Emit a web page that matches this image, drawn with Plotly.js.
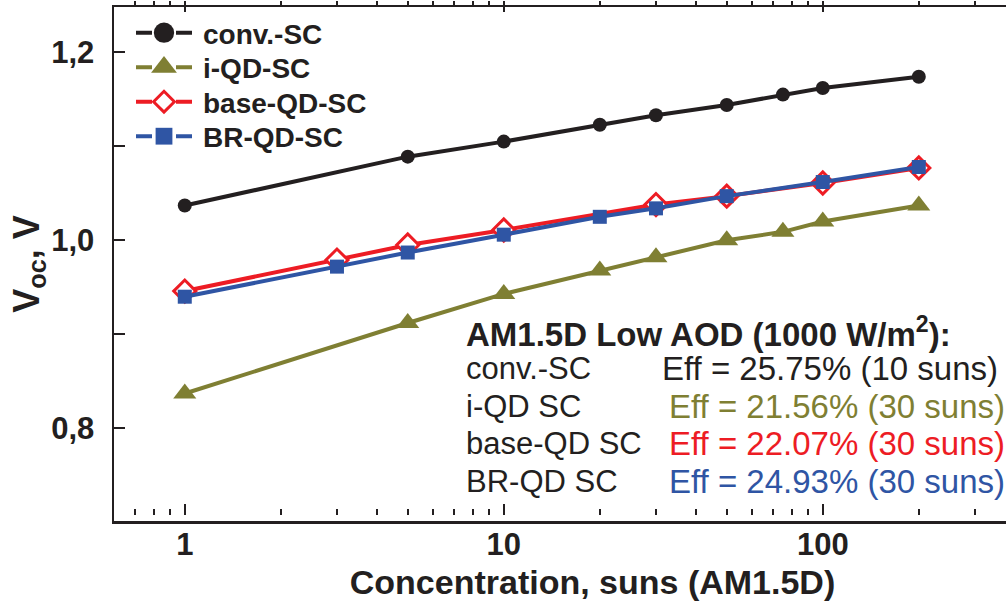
<!DOCTYPE html>
<html><head><meta charset="utf-8">
<script src="https://cdn.plot.ly/plotly-3.0.1.min.js"></script>
<style>html,body{margin:0;padding:0;overflow:hidden;background:#fff;width:1006px;height:601px}</style>
</head><body><div id="chart"></div>
<script>
// ---- data ----
const seriesNames = ['conv.-SC', 'i-QD-SC', 'base-QD-SC', 'BR-QD-SC'];
const concConv = [1, 5, 10, 20, 30, 50, 75, 100, 200];
const vocConv  = [1.037, 1.089, 1.105, 1.123, 1.133, 1.144, 1.155, 1.162, 1.174];
const concIQD  = [1, 5, 10, 20, 30, 50, 75, 100, 200];
const vocIQD   = [0.837, 0.912, 0.943, 0.968, 0.982, 1.000, 1.009, 1.020, 1.037];
const concBase = [1, 3, 5, 10, 30, 50, 100, 200];
const vocBase  = [0.946, 0.979, 0.995, 1.011, 1.038, 1.047, 1.061, 1.077];
const concBR   = [1, 3, 5, 10, 20, 30, 50, 100, 200];
const vocBR    = [0.940, 0.972, 0.987, 1.006, 1.025, 1.034, 1.047, 1.062, 1.078];
const yTickVals = [0.8, 0.9, 1.0, 1.1, 1.2];
const yTickText = ['0,8', '', '1,0', '', '1,2'];
const xTickVals = [1, 10, 100];
const xTickText = ['1', '10', '100'];
const infoTitle = 'AM1.5D Low AOD (1000 W/m<sup>2</sup>):';
const infoCells = ['conv.-SC', 'i-QD SC', 'base-QD SC', 'BR-QD SC'];
const infoEff   = ['Eff = 25.75% (10 suns)', 'Eff = 21.56% (30 suns)', 'Eff = 22.07% (30 suns)', 'Eff = 24.93% (30 suns)'];

// ---- styles ----
const INK = '#231f20', OLIVE = '#7f7f33', RED = '#ed1c24', BLUE = '#2f55a4';
const FONT = 'Liberation Sans, Arial, Helvetica, sans-serif';
const W = 1071, H = 601, ML = 114, MT = 7, MB = 80;
const PW = W - ML, PH = H - MT - MB;
const px2x = p => (p - ML) / PW;
const py2y = p => (H - MB - p) / PH;

const traces = [
  {x: concConv, y: vocConv, name: seriesNames[0], mode: 'lines+markers',
   line: {color: INK, width: 4}, marker: {symbol: 'circle', size: 14, color: INK}},
  {x: concIQD, y: vocIQD, name: seriesNames[1], mode: 'lines+markers',
   line: {color: OLIVE, width: 4}, marker: {symbol: 'triangle-up', size: 20, color: OLIVE}},
  {x: concBase, y: vocBase, name: seriesNames[2], mode: 'lines+markers',
   line: {color: RED, width: 4}, marker: {symbol: 'diamond', size: 17, color: '#ffffff', line: {color: RED, width: 3}}},
  {x: concBR, y: vocBR, name: seriesNames[3], mode: 'lines+markers',
   line: {color: BLUE, width: 4}, marker: {symbol: 'square', size: 14, color: BLUE}}
];
const legendMarkerScale = [1.45, 1.4, 1.0, 1.2];

const annotations = [
  {text: infoTitle, xref: 'paper', yref: 'paper', x: px2x(464), y: py2y(332), xanchor: 'left', yanchor: 'middle',
   showarrow: false, font: {family: FONT, size: 33, color: INK, weight: 'bold'}}
];
const rowY = [368, 406, 443, 481];
const effColors = [INK, OLIVE, RED, BLUE];
const effX = [660, 667, 667, 667];
infoCells.forEach((t, i) => {
  annotations.push({text: t, xref: 'paper', yref: 'paper', x: px2x(464), y: py2y(rowY[i]), xanchor: 'left', yanchor: 'middle',
    showarrow: false, font: {family: FONT, size: 31, color: INK}});
  annotations.push({text: infoEff[i], xref: 'paper', yref: 'paper', x: px2x(effX[i]), y: py2y(rowY[i]), xanchor: 'left', yanchor: 'middle',
    showarrow: false, font: {family: FONT, size: 33, color: effColors[i]}});
});

const layout = {
  width: W, height: H,
  margin: {l: ML, r: 0, t: MT, b: MB},
  paper_bgcolor: '#ffffff', plot_bgcolor: '#ffffff',
  font: {family: FONT, color: INK},
  showlegend: true,
  legend: {x: px2x(131), y: py2y(8), xanchor: 'left', yanchor: 'top', bgcolor: 'rgba(0,0,0,0)',
           itemwidth: 62, font: {family: FONT, size: 28, color: INK, weight: 'bold'}},
  xaxis: {
    type: 'log', range: [Math.log10(0.6), Math.log10(600)],
    showgrid: false, zeroline: false,
    showline: true, linecolor: INK, linewidth: 2.5, mirror: 'ticks',
    ticks: 'inside', ticklen: 11, tickwidth: 2, tickcolor: INK,
    tickvals: xTickVals, ticktext: xTickText,
    tickfont: {family: FONT, size: 31, color: INK, weight: 'bold'},
    minor: {ticks: 'inside', ticklen: 6, tickwidth: 2, tickcolor: INK, dtick: 'D1', showgrid: false},
    title: {text: 'Concentration, suns (AM1.5D)', standoff: 6,
            font: {family: FONT, size: 34, color: INK, weight: 'bold'}}
  },
  yaxis: {
    range: [0.7014, 1.2482],
    showgrid: false, zeroline: false,
    showline: true, linecolor: INK, linewidth: 2.5, mirror: 'ticks',
    ticks: 'inside', ticklen: 11, tickwidth: 2, tickcolor: INK,
    tickvals: yTickVals, ticktext: yTickText,
    ticklabelstandoff: 11,
    tickfont: {family: FONT, size: 31, color: INK, weight: 'bold'},
    title: {text: '\u00A0\u00A0\u00A0V<sub>oc</sub>, V', standoff: 0,
            font: {family: FONT, size: 36, color: INK, weight: 'bold'}}
  },
  annotations: annotations
};

Plotly.newPlot('chart', traces, layout, {staticPlot: true, displayModeBar: false}).then(gd => {
  const items = gd.querySelectorAll('.legend .traces');
  if (items.length) {
    const m = /translate\(\s*([-\d.]+)[ ,]+([-\d.]+)\s*\)/.exec(items[0].getAttribute('transform') || '');
    const x0 = m ? +m[1] : 0, y0 = m ? +m[2] : 0;
    items.forEach((g, i) => {
      g.setAttribute('transform', 'translate(' + x0 + ',' + (y0 + i * 34.5) + ')');
      g.querySelectorAll('.legendlines path').forEach(p => p.setAttribute('d', 'M5,0h16M45,0h16'));
      const s = legendMarkerScale[i] || 1;
      g.querySelectorAll('.legendpoints path.scatterpts').forEach(p => p.setAttribute('transform', 'translate(33,0) scale(' + s + ')'));
    });
  }
  gd.querySelectorAll('.xaxislayer-above .xtick').forEach(g => {
    const t = g.getAttribute('transform') || '';
    g.setAttribute('transform', (t + ' translate(0,-6)').trim());
  });
});
</script>
</body></html>
